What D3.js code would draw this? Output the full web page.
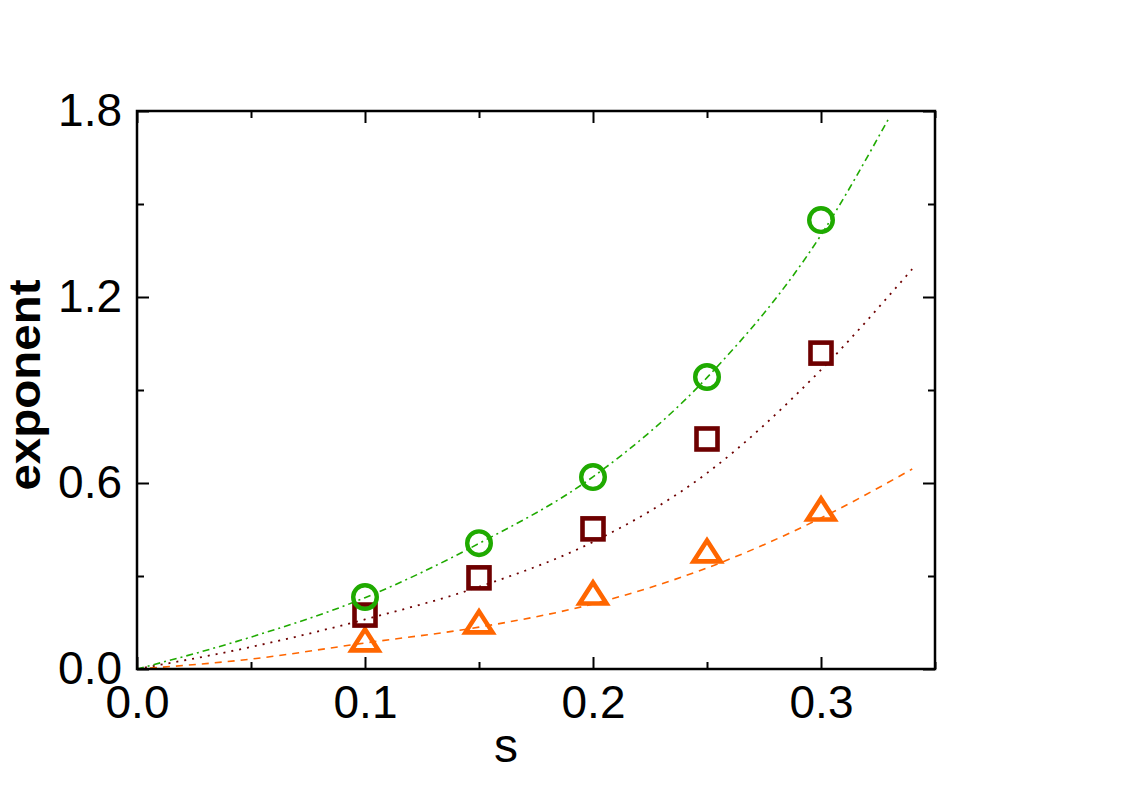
<!DOCTYPE html>
<html>
<head>
<meta charset="utf-8">
<script src="https://cdn.jsdelivr.net/npm/d3@7"></script>
<style>
  html, body { margin: 0; padding: 0; background: #fff; }
  svg { display: block; }
  text { font-family: "Liberation Sans", Arial, sans-serif; }
</style>
</head>
<body>
<svg id="chart" width="1140" height="796"></svg>
<script>
// ---- data ----
const sValues = [0.1, 0.15, 0.2, 0.25, 0.3];
const circleValues = [0.232, 0.406, 0.619, 0.942, 1.448];
const squareValues = [0.174, 0.294, 0.452, 0.742, 1.019];
const triangleValues = [0.094, 0.152, 0.245, 0.381, 0.516];

// fitted curves
const greenFitS = [0, 0.05, 0.1, 0.15, 0.2, 0.25, 0.3, 0.33];
const greenFitY = [0, 0.103, 0.23, 0.405, 0.62, 0.94, 1.40, 1.78];
const maroonFitS = [0, 0.05, 0.1, 0.15, 0.2, 0.25, 0.3, 0.34];
const maroonFitY = [0, 0.071, 0.16, 0.265, 0.41, 0.632, 0.965, 1.29];
const orangeFitS = [0, 0.05, 0.1, 0.15, 0.2, 0.25, 0.3, 0.34];
const orangeFitY = [0, 0.032, 0.084, 0.135, 0.21, 0.326, 0.487, 0.645];

const xMajorTicks = [0, 0.1, 0.2, 0.3];
const xMinorTicks = [0.05, 0.15, 0.25, 0.35];
const yMajorTicks = [0, 0.6, 1.2, 1.8];
const yMinorTicks = [0.3, 0.9, 1.5];
const xTickLabels = ["0.0", "0.1", "0.2", "0.3"];
const yTickLabels = ["0.0", "0.6", "1.2", "1.8"];
const xTitle = "s";
const yTitle = "exponent";

// ---- layout ----
const margin = {left: 137, top: 111, right: 1140 - 935, bottom: 796 - 669};
const W = 1140 - margin.left - margin.right;
const H = 796 - margin.top - margin.bottom;

const GREEN = "#1faa00", MAROON = "#6e0000", ORANGE = "#ff6600";
const FONT = "Liberation Sans, Arial, sans-serif";

const svg = d3.select("#chart");
const g = svg.append("g").attr("transform", `translate(${margin.left},${margin.top})`);

const x = d3.scaleLinear().domain([0, 0.35]).range([0, W]);
const y = d3.scaleLinear().domain([0, 1.8]).range([H, 0]);

// ---- curves ----
const line = d3.line().curve(d3.curveMonotoneX).x(d => x(d[0])).y(d => y(d[1]));
g.append("clipPath").attr("id", "clip").append("rect")
  .attr("x", 0).attr("y", 0).attr("width", W).attr("height", H);

const curves = [
  {s: orangeFitS, v: orangeFitY, color: ORANGE, dash: "7,6", w: 1.6},
  {s: maroonFitS, v: maroonFitY, color: MAROON, dash: "2,6", w: 1.8},
  {s: greenFitS, v: greenFitY, color: GREEN, dash: "7,4,2,4", w: 1.6}
];
const curveG = g.append("g").attr("clip-path", "url(#clip)");
curves.forEach(c => {
  curveG.append("path")
    .datum(c.s.map((s, i) => [s, c.v[i]]))
    .attr("d", line)
    .attr("fill", "none")
    .attr("stroke", c.color)
    .attr("stroke-width", c.w)
    .attr("stroke-dasharray", c.dash);
});

// ---- markers ----
const mk = g.append("g");
mk.selectAll("path.tri").data(sValues.map((s, i) => [s, triangleValues[i]])).enter()
  .append("path").attr("class", "tri")
  .attr("transform", d => `translate(${x(d[0])},${y(d[1])})`)
  .attr("d", "M0,-10.5 L13.5,10.5 L-13.5,10.5 Z")
  .attr("fill", "none").attr("stroke", ORANGE).attr("stroke-width", 4.6)
  .attr("stroke-linejoin", "miter");

mk.selectAll("rect.sq").data(sValues.map((s, i) => [s, squareValues[i]])).enter()
  .append("rect").attr("class", "sq")
  .attr("x", d => x(d[0]) - 10.5).attr("y", d => y(d[1]) - 10.5)
  .attr("width", 21).attr("height", 21)
  .attr("fill", "none").attr("stroke", MAROON).attr("stroke-width", 4.6);

mk.selectAll("circle.c").data(sValues.map((s, i) => [s, circleValues[i]])).enter()
  .append("circle").attr("class", "c")
  .attr("cx", d => x(d[0])).attr("cy", d => y(d[1])).attr("r", 11.8)
  .attr("fill", "none").attr("stroke", GREEN).attr("stroke-width", 4.4);

// ---- axes ----
function styleAxis(sel) {
  sel.select(".domain").remove();
  sel.selectAll(".tick line").attr("stroke", "#000").attr("stroke-width", 2);
}
const MAJ = 12, MIN = 7;
// bottom
g.append("g").attr("transform", `translate(0,${H})`)
  .call(d3.axisBottom(x).tickValues(xMajorTicks).tickSizeInner(-MAJ).tickSizeOuter(0)
    .tickFormat((d, i) => xTickLabels[i]).tickPadding(16))
  .call(styleAxis)
  .call(s => s.selectAll("text").attr("font-size", 46).attr("fill", "#000").attr("font-family", FONT));
g.append("g").attr("transform", `translate(0,${H})`)
  .call(d3.axisBottom(x).tickValues(xMinorTicks).tickSizeInner(-MIN).tickSizeOuter(0).tickFormat(""))
  .call(styleAxis);
// top
g.append("g")
  .call(d3.axisTop(x).tickValues(xMajorTicks).tickSizeInner(-MAJ).tickSizeOuter(0).tickFormat(""))
  .call(styleAxis);
g.append("g")
  .call(d3.axisTop(x).tickValues(xMinorTicks).tickSizeInner(-MIN).tickSizeOuter(0).tickFormat(""))
  .call(styleAxis);
// left
g.append("g")
  .call(d3.axisLeft(y).tickValues(yMajorTicks).tickSizeInner(-MAJ).tickSizeOuter(0)
    .tickFormat((d, i) => yTickLabels[i]).tickPadding(15))
  .call(styleAxis)
  .call(s => s.selectAll("text").attr("font-size", 46).attr("fill", "#000").attr("font-family", FONT));
g.append("g")
  .call(d3.axisLeft(y).tickValues(yMinorTicks).tickSizeInner(-MIN).tickSizeOuter(0).tickFormat(""))
  .call(styleAxis);
// right
g.append("g").attr("transform", `translate(${W},0)`)
  .call(d3.axisRight(y).tickValues(yMajorTicks).tickSizeInner(-MAJ).tickSizeOuter(0).tickFormat(""))
  .call(styleAxis);
g.append("g").attr("transform", `translate(${W},0)`)
  .call(d3.axisRight(y).tickValues(yMinorTicks).tickSizeInner(-MIN).tickSizeOuter(0).tickFormat(""))
  .call(styleAxis);

// frame
g.append("rect").attr("x", 0).attr("y", 0).attr("width", W).attr("height", H)
  .attr("fill", "none").attr("stroke", "#000").attr("stroke-width", 2.5);

// titles
svg.append("text")
  .attr("x", 506).attr("y", 762)
  .attr("text-anchor", "middle").attr("font-size", 48).attr("fill", "#000")
  .text(xTitle);
svg.append("text")
  .attr("transform", `translate(40,385) rotate(-90) scale(1.08,1)`)
  .attr("text-anchor", "middle").attr("font-size", 44).attr("font-weight", "bold").attr("fill", "#000")
  .text(yTitle);
</script>
</body>
</html>
